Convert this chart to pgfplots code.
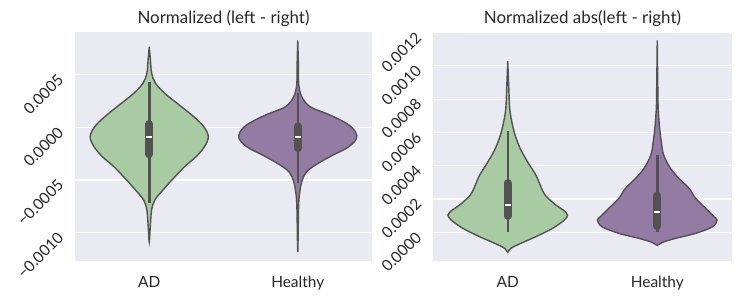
\documentclass[border=0pt]{standalone}
\usepackage{pgfplots}
\pgfplotsset{compat=1.18}
\usepackage{pgfplotstable}
\usepackage{fontspec}
\setmainfont{Lato}
\definecolor{bg}{HTML}{EAEAF2}
\definecolor{vgreen}{HTML}{A9CBA3}
\definecolor{vpurple}{HTML}{937BA3}
\definecolor{vline}{HTML}{525252}
\definecolor{txt}{HTML}{262626}

% violin outlines: y, signed half-width (right side top->bottom, left side bottom->top)
\pgfplotstableread{
y w
0.000765 0
0.000639 0.008
0.000513 0.016
0.000418 0.042
0.000323 0.104
0.000196 0.216
0.000100 0.300
0.000006 0.367
-0.000089 0.398
-0.000184 0.372
-0.000279 0.316
-0.000374 0.238
-0.000500 0.153
-0.000595 0.093
-0.000690 0.038
-0.000785 0.016
-0.000944 0.007
-0.001090 0
-0.000944 -0.007
-0.000785 -0.016
-0.000690 -0.038
-0.000595 -0.093
-0.000500 -0.153
-0.000374 -0.238
-0.000279 -0.316
-0.000184 -0.372
-0.000089 -0.398
0.000006 -0.367
0.000100 -0.300
0.000196 -0.216
0.000323 -0.104
0.000418 -0.042
0.000513 -0.016
0.000639 -0.008
0.000765 0
}\adL

\pgfplotstableread{
y w
0.000825 0
0.000560 0.005
0.000402 0.007
0.000291 0.027
0.000196 0.082
0.000117 0.216
0.000047 0.316
-0.000010 0.371
-0.000079 0.398
-0.000136 0.382
-0.000200 0.327
-0.000263 0.238
-0.000342 0.138
-0.000421 0.060
-0.000516 0.027
-0.000643 0.011
-0.000770 0.0055
-0.001185 0
-0.000770 -0.0055
-0.000643 -0.011
-0.000516 -0.027
-0.000421 -0.060
-0.000342 -0.138
-0.000263 -0.238
-0.000200 -0.327
-0.000136 -0.382
-0.000079 -0.398
-0.000010 -0.371
0.000047 -0.316
0.000117 -0.216
0.000196 -0.082
0.000291 -0.027
0.000402 -0.007
0.000560 -0.005
0.000825 0
}\heL

\pgfplotstableread{
y w
0.001028 0
0.000865 0.007
0.000745 0.013
0.000664 0.027
0.000584 0.049
0.000504 0.083
0.000424 0.132
0.000344 0.188
0.000284 0.217
0.000224 0.250
0.000164 0.322
0.000134 0.371
0.000104 0.400
0.000074 0.378
0.000024 0.300
-0.000026 0.188
-0.000066 0.087
-0.000096 0.020
-0.000120 0
-0.000096 -0.020
-0.000066 -0.087
-0.000026 -0.188
0.000024 -0.300
0.000074 -0.378
0.000104 -0.400
0.000134 -0.371
0.000164 -0.322
0.000224 -0.250
0.000284 -0.217
0.000344 -0.188
0.000424 -0.132
0.000504 -0.083
0.000584 -0.049
0.000664 -0.027
0.000745 -0.013
0.000865 -0.007
0.001028 0
}\adR

\pgfplotstableread{
y w
0.001152 0
0.000785 0.005
0.000704 0.009
0.000624 0.016
0.000544 0.027
0.000464 0.043
0.000384 0.089
0.000324 0.145
0.000264 0.213
0.000204 0.257
0.000144 0.324
0.000094 0.380
0.000074 0.400
0.000034 0.370
-0.000006 0.257
-0.000036 0.123
-0.000060 0.034
-0.000078 0
-0.000060 -0.034
-0.000036 -0.123
-0.000006 -0.257
0.000034 -0.370
0.000074 -0.400
0.000094 -0.380
0.000144 -0.324
0.000204 -0.257
0.000264 -0.213
0.000324 -0.145
0.000384 -0.089
0.000464 -0.043
0.000544 -0.027
0.000624 -0.016
0.000704 -0.009
0.000785 -0.005
0.001152 0
}\heR

\pgfplotsset{
  vstyle/.style={
    scale only axis,
    height=229bp,
    xmin=-0.5, xmax=1.5,
    xtick={0,1}, xticklabels={AD,Healthy},
    scaled y ticks=false,
    axis background/.style={fill=bg},
    axis line style={draw=none},
    major tick length=0pt,
    ymajorgrids,
    grid style={white, line width=1.2bp},
    tick label style={font=\fontsize{15.5}{17}\selectfont, text=txt},
    yticklabel style={xshift=-12bp, rotate=45, anchor=east},
    xticklabel style={yshift=-12bp},
    title style={font=\fontsize{17}{19}\selectfont, text=txt, yshift=-4bp},
  },
  violin/.style={draw=vline, line width=1.4bp, smooth, tension=0.55},
  whisk/.style={vline, line width=2.5bp},
  iqr/.style={vline, line width=8bp, line cap=round},
  med/.style={only marks, mark=-, mark size=3bp, mark options={white, line width=1.8bp}},
}

\begin{document}
\begin{tikzpicture}
\path[use as bounding box] (0,0) rectangle (742bp,300bp);

\begin{axis}[vstyle, at={(75bp,39bp)}, anchor=south west, width=297bp,
  ymin=-0.00127, ymax=0.000905,
  ytick={-0.001,-0.0005,0,0.0005},
  yticklabels={−0.0010,−0.0005,0.0000,0.0005},
  title={Normalized (left - right)}]
\addplot[violin, fill=vgreen] table[x expr=0+\thisrow{w}, y=y] {\adL} -- cycle;
\addplot[violin, fill=vpurple] table[x expr=1+\thisrow{w}, y=y] {\heL} -- cycle;
\addplot[whisk] coordinates {(0,-0.000722) (0,0.000433)};
\addplot[iqr] coordinates {(0,-0.000256) (0,0.000031)};
\addplot[med] coordinates {(0,-0.000089)};
\addplot[whisk] coordinates {(1,-0.000532) (1,0.000323)};
\addplot[iqr] coordinates {(1,-0.000199) (1,0.000009)};
\addplot[med] coordinates {(1,-0.000089)};
\end{axis}

\begin{axis}[vstyle, at={(433bp,39bp)}, anchor=south west, width=299bp,
  ymin=-0.000172, ymax=0.001203,
  ytick={0,0.0002,0.0004,0.0006,0.0008,0.0010,0.0012},
  yticklabels={0.0000,0.0002,0.0004,0.0006,0.0008,0.0010,0.0012},
  title={Normalized abs(left - right)}]
\addplot[violin, fill=vgreen] table[x expr=0+\thisrow{w}, y=y] {\adR} -- cycle;
\addplot[violin, fill=vpurple] table[x expr=1+\thisrow{w}, y=y] {\heR} -- cycle;
\addplot[whisk] coordinates {(0,0) (0,0.000608)};
\addplot[iqr] coordinates {(0,0.000098) (0,0.000296)};
\addplot[med] coordinates {(0,0.000164)};
\addplot[whisk] coordinates {(1,0) (1,0.000464)};
\addplot[iqr] coordinates {(1,0.000038) (1,0.000220)};
\addplot[med] coordinates {(1,0.000124)};
\end{axis}
\end{tikzpicture}
\end{document}
